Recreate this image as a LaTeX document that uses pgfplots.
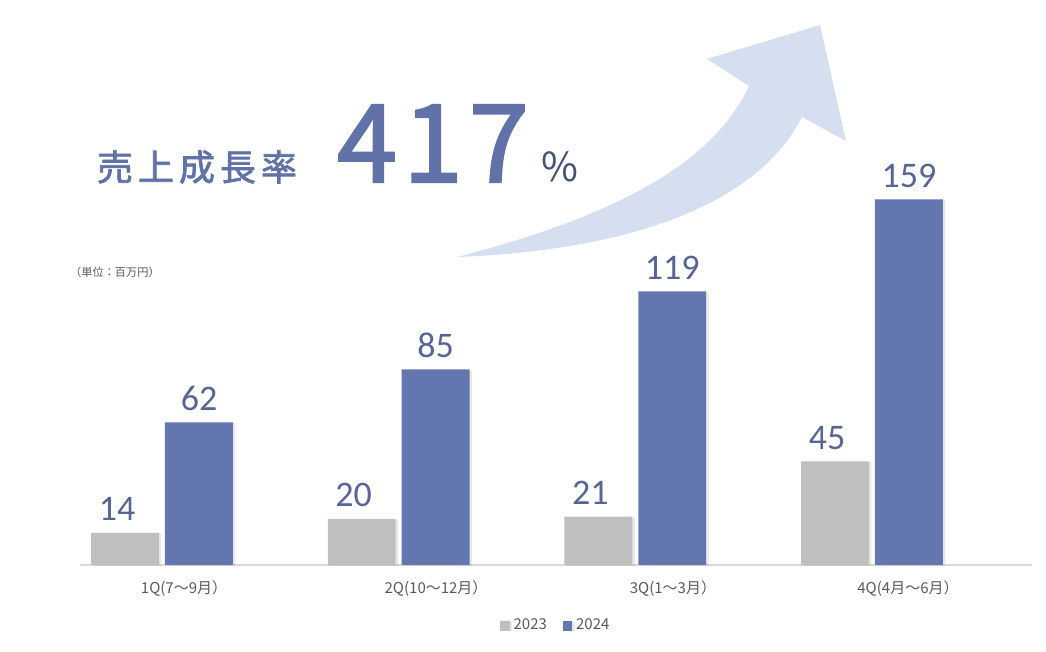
\documentclass[border=0pt]{standalone}
\usepackage{pgfplots}
\pgfplotsset{compat=1.18}
\usetikzlibrary{shadows}
\usepackage{fontspec}
\setmainfont{Carlito}
\newfontfamily\jp{Noto Sans CJK JP}
\newfontfamily\jpm{Noto Sans CJK JP}[FakeBold=2]
\definecolor{barblue}{RGB}{99,118,176}
\definecolor{bargray}{RGB}{191,191,191}
\definecolor{lblblue}{RGB}{86,101,150}
\definecolor{titleblue}{RGB}{96,114,168}
\definecolor{arrowc}{RGB}{214,223,240}
\definecolor{axgray}{RGB}{217,217,217}
\definecolor{txtgray}{RGB}{89,89,89}
\pgfplotstableread{
x y
0 14
1 20
2 21
3 45
}\dataA
\pgfplotstableread{
x y
0 62
1 85
2 119
3 159
}\dataB
\begin{document}
\begin{tikzpicture}
\useasboundingbox (0,0) rectangle (523pt,326pt);
\begin{scope}[x=0.5pt,y=-0.5pt,yshift=326pt]
\fill[arrowc] (457,257) .. controls (600,220) and (710,170) .. (749,86) -- (707,59) -- (820,25) -- (846,141) -- (802,117) .. controls (760,200) and (640,250) .. cycle;
\node[titleblue,inner sep=0,anchor=center] at (197,167) {\jpm\fontsize{18pt}{20pt}\selectfont 売\hspace{2.5pt}上\hspace{2.5pt}成\hspace{2.5pt}長\hspace{2.5pt}率};
\node[titleblue,inner sep=0,anchor=base] at (433,182) {\jpm\fontsize{54pt}{60pt}\selectfont 4\hspace{3pt}1\hspace{3pt}7};
\node[color=lblblue!80!black,inner sep=0,anchor=base] at (560,182) {\jp\fontsize{20pt}{22pt}\selectfont \%};
\node[txtgray,inner sep=0,anchor=center] at (115,272) {\jp\fontsize{5.6pt}{6.5pt}\selectfont （単位：百万円）};
\end{scope}
\begin{axis}[
  at={(40pt,43.5pt)}, anchor=south west,
  scale only axis, width=476pt, height=195.5pt,
  xmin=-0.3465, xmax=3.676, ymin=0, ymax=170,
  axis x line=bottom, axis y line=none,
  axis line style={draw=axgray, line width=0.6pt, -},
  xtick={0.093,1.158,2.159,3.152},
  xticklabels={1Q(7～9月）, 2Q(10～12月）, 3Q(1～3月）, 4Q(4月～6月）},
  major tick length=0pt,
  xticklabel style={font=\jp\fontsize{7.5pt}{9pt}\selectfont, text=txtgray, anchor=center, yshift=-12pt},
  clip=false,
  /pgf/number format/assume math mode=true,
  legend style={at={(0.501,-0.156)}, anchor=center, draw=none, fill=none,
    legend columns=2, font=\jp\fontsize{7.5pt}{9pt}\selectfont, text=txtgray,
    /tikz/every even column/.append style={column sep=6pt}},
  legend image code/.code={\fill[#1] (0pt,-2.3pt) rectangle (4.6pt,2.3pt);},
  bar width=0.287,
]
\addplot[ybar, bar shift=-0.156, fill=bargray, draw=none,
  drop shadow={shadow xshift=1.2pt, shadow yshift=-0.4pt, opacity=0.18},
  nodes near coords,
  every node near coord/.append style={font=\fontsize{18pt}{20pt}\selectfont, text=lblblue, anchor=base, yshift=6pt, xshift=-22.5pt}] table[x=x,y=y] {\dataA};
\addplot[ybar, bar shift=0.156, fill=barblue, draw=none,
  drop shadow={shadow xshift=1.2pt, shadow yshift=-0.4pt, opacity=0.18},
  nodes near coords,
  every node near coord/.append style={font=\fontsize{18pt}{20pt}\selectfont, text=lblblue, anchor=base, yshift=6pt, xshift=18.5pt}] table[x=x,y=y] {\dataB};
\legend{2023,2024}
\end{axis}
\end{tikzpicture}
\end{document}
